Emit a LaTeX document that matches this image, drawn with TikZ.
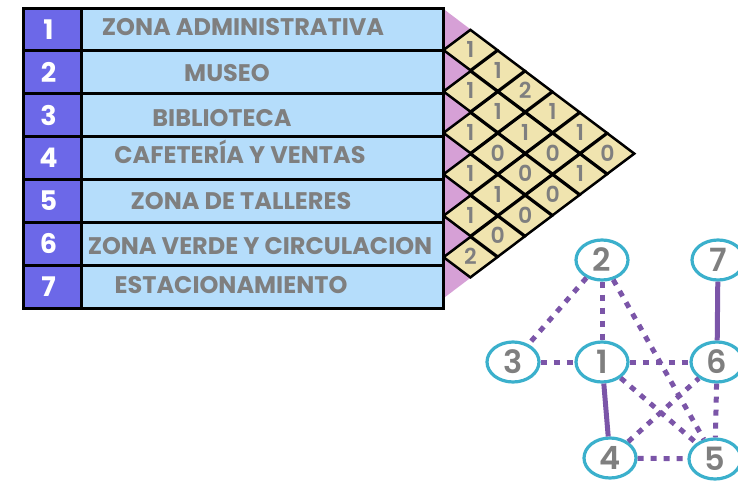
\documentclass[tikz,border=0pt]{standalone}
\usepackage{fontspec}
\setmainfont{Poppins}
\newfontfamily\semifont{Poppins SemiBold}
\usepackage{xcolor}
\definecolor{ZoneIndigo}{HTML}{6C68E8}
\definecolor{ZoneSky}{HTML}{B5DDFB}
\definecolor{ZoneGray}{HTML}{7F7F7F}
\definecolor{SelfPink}{HTML}{D6A0D6}
\definecolor{PairSand}{HTML}{F0E4AF}
\definecolor{AreaCyan}{HTML}{3BB0CC}
\definecolor{LinkPurple}{HTML}{7B55A8}
\usepackage{tikz}
\usetikzlibrary{positioning,shapes.geometric}
\tikzset{
  numcell/.style={draw=black,line width=3pt,fill=ZoneIndigo,text=white,font=\fontsize{27}{30}\selectfont\bfseries,minimum width=58pt,minimum height=42.86pt,inner sep=0pt,outer sep=0pt},
  zonecell/.style={draw=black,line width=3pt,fill=ZoneSky,minimum width=362pt,minimum height=42.86pt,inner sep=0pt,outer sep=0pt},
  zonetext/.style={text=ZoneGray,font=\fontsize{24}{28}\selectfont\bfseries,inner sep=0pt,text height=17pt,text depth=0pt},
  paircell/.style={diamond,draw=black,line width=2.5pt,fill=PairSand,minimum width=54.8pt,minimum height=41.43pt,inner sep=0pt,text=ZoneGray,font=\fontsize{22}{26}\semifont,text height=15pt,text depth=0pt},
  areanode/.style={ellipse,draw=AreaCyan,line width=3.2pt,fill=white,minimum width=52pt,minimum height=40pt,inner sep=0pt,text=ZoneGray,font=\fontsize{32}{36}\semifont,text height=22pt,text depth=0pt},
  weaklink/.style={draw=LinkPurple,line width=5pt,dash pattern=on 6pt off 7pt},
  stronglink/.style={draw=LinkPurple,line width=5pt}
}

\begin{document}
\begin{tikzpicture}[x=1pt,y=-1pt]
  \useasboundingbox (0,0) rectangle (738,482);
  % matrix of relations
  \foreach \i in {1,...,7}
    \fill[SelfPink] (443,{8.6+(\i-1)*41.43}) -- (470.4,{8.6+(\i-0.5)*41.43}) -- (443,{8.6+\i*41.43}) -- cycle;
  \foreach \i/\j/\v in {1/2/1,1/3/1,1/4/2,1/5/1,1/6/1,1/7/0,
                        2/3/1,2/4/1,2/5/1,2/6/0,2/7/1,
                        3/4/1,3/5/0,3/6/0,3/7/0,
                        4/5/1,4/6/1,4/7/0,
                        5/6/1,5/7/0,
                        6/7/2}
    \node[paircell] (pair\i\j) at ({443+(\j-\i)*27.4},{8.6+((\i+\j)/2-0.5)*41.43}) {\v};
  % table of zones
  \foreach \i/\name/\tx/\ty in {1/{ZONA ADMINISTRATIVA}/243/26.7,
                               2/{MUSEO}/227/72.5,
                               3/{BIBLIOTECA}/222/118,
                               4/{CAFETERÍA Y VENTAS}/240/155,
                               5/{ZONA DE TALLERES}/241/200.8,
                               6/{ZONA VERDE Y CIRCULACION}/260/246,
                               7/{ESTACIONAMIENTO}/231/285} {
    \node[numcell] (num\i) at (52,{8+(\i-0.5)*42.86}) {\hspace*{-7pt}\i};
    \node[zonecell,right=0pt of num\i] (zone\i) {};
    \node[zonetext] (label\i) at (\tx,\ty) {\name};
  }
  % graph of areas
  \node[areanode] (area2) at (602,260) {2};
  \node[areanode] (area7) at (718,260) {7};
  \node[areanode] (area3) at (513,362) {3};
  \node[areanode] (area1) at (602,362) {1};
  \node[areanode] (area6) at (717,362) {6};
  \node[areanode] (area4) at (610,458) {4};
  \node[areanode] (area5) at (715,459) {5};
  \draw[weaklink] (area2) -- (area3);
  \draw[weaklink] (area2) -- (area1);
  \draw[weaklink] (area2) -- (area5);
  \draw[weaklink] (area3) -- (area1);
  \draw[weaklink] (area1) -- (area6);
  \draw[weaklink] (area1) -- (area5);
  \draw[weaklink] (area4) -- (area6);
  \draw[weaklink] (area6) -- (area5);
  \draw[weaklink] (area4) -- (area5);
  \draw[stronglink] (area1) -- (area4);
  \draw[stronglink] (area7) -- (area6);
\end{tikzpicture}
\end{document}
